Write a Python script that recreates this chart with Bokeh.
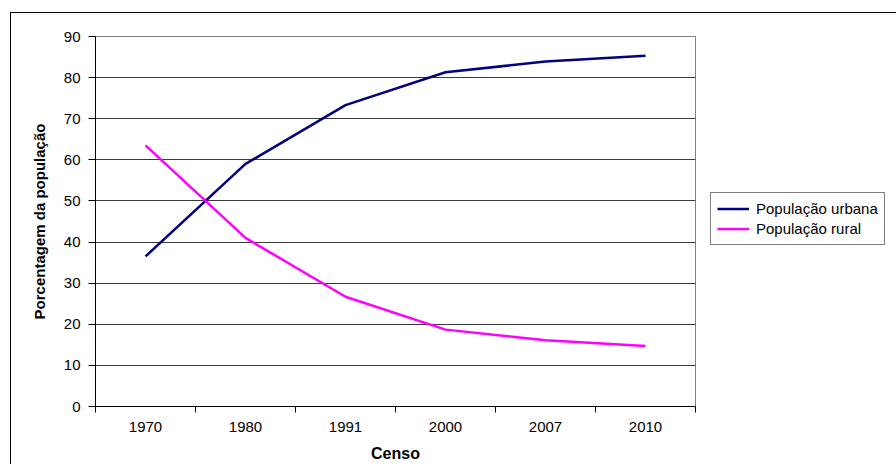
from bokeh.plotting import figure
from bokeh.models import FixedTicker, Legend, LegendItem, Range1d
from bokeh.embed import file_html
from bokeh.resources import INLINE

censos = ["1970", "1980", "1991", "2000", "2007", "2010"]
urbana = [36.5, 59.0, 73.3, 81.3, 83.9, 85.3]
rural = [63.5, 41.0, 26.7, 18.7, 16.1, 14.7]
y_ticks = [0, 10, 20, 30, 40, 50, 60, 70, 80, 90]

FONT = "Liberation Sans"

x_pos = [i + 0.5 for i in range(len(censos))]
bounds = list(range(len(censos) + 1))

p = figure(frame_width=600, frame_height=370, output_backend="svg", toolbar_location=None,
           x_range=Range1d(0, len(censos)), y_range=Range1d(y_ticks[0], y_ticks[-1]),
           min_border_left=95, min_border_right=193, min_border_top=36, min_border_bottom=58)
p.background_fill_color = "white"
p.border_fill_color = None
p.outline_line_color = "#808080"
# outer chart border drawn as CSS background behind the transparent border area
p.styles = {
    "background": ("linear-gradient(#000,#000) 10px 12px / 1px 100% no-repeat, "
                   "linear-gradient(#000,#000) 10px 12px / 100% 1px no-repeat, white"),
}

r_urb = p.line(x_pos, urbana, line_color="#000080", line_width=2.5)
r_rur = p.line(x_pos, rural, line_color="#FF00FF", line_width=2.5)

# X axis
xa = p.xaxis[0]
xa.ticker = FixedTicker(ticks=x_pos, minor_ticks=bounds)
xa.major_label_overrides = {xp: c for xp, c in zip(x_pos, censos)}
xa.major_tick_out = 0
xa.major_tick_in = 0
xa.minor_tick_out = 6
xa.minor_tick_in = 0
xa.minor_tick_line_color = "black"
xa.axis_line_color = "black"
xa.major_label_text_font = FONT
xa.major_label_text_font_size = "15px"
xa.major_label_text_color = "black"
xa.major_label_standoff = 9
xa.axis_label = "Censo"
xa.axis_label_text_font = FONT
xa.axis_label_text_font_size = "16px"
xa.axis_label_text_font_style = "bold"
xa.axis_label_text_color = "black"
xa.axis_label_standoff = 10

# Y axis
ya = p.yaxis[0]
ya.ticker = FixedTicker(ticks=y_ticks, minor_ticks=[])
ya.major_tick_out = 7
ya.major_tick_in = 0
ya.major_tick_line_color = "black"
ya.axis_line_color = "black"
ya.major_label_text_font = FONT
ya.major_label_text_font_size = "15px"
ya.major_label_text_color = "black"
ya.major_label_standoff = 8
ya.axis_label = "Porcentagem da população"
ya.axis_label_text_font = FONT
ya.axis_label_text_font_size = "15px"
ya.axis_label_text_font_style = "bold"
ya.axis_label_text_color = "black"
ya.axis_label_standoff = 13

p.xgrid.visible = False
p.ygrid.ticker = FixedTicker(ticks=y_ticks[1:-1])
p.ygrid.grid_line_color = "#3a3a3a"
p.ygrid.grid_line_width = 1

legend = Legend(items=[LegendItem(label="População urbana", renderers=[r_urb]),
                       LegendItem(label="População rural", renderers=[r_rur])],
                location=(15, 161), orientation="vertical")
legend.border_line_color = "black"
legend.border_line_width = 1
legend.background_fill_color = "white"
legend.background_fill_alpha = 1
legend.label_text_font = FONT
legend.label_text_font_size = "15px"
legend.label_text_color = "black"
legend.glyph_width = 32
legend.glyph_height = 19
legend.label_height = 19
legend.label_standoff = 7
legend.spacing = 1
legend.padding = 6
legend.margin = 0
p.add_layout(legend, "right")

open("out.html", "w").write(file_html(p, INLINE))
